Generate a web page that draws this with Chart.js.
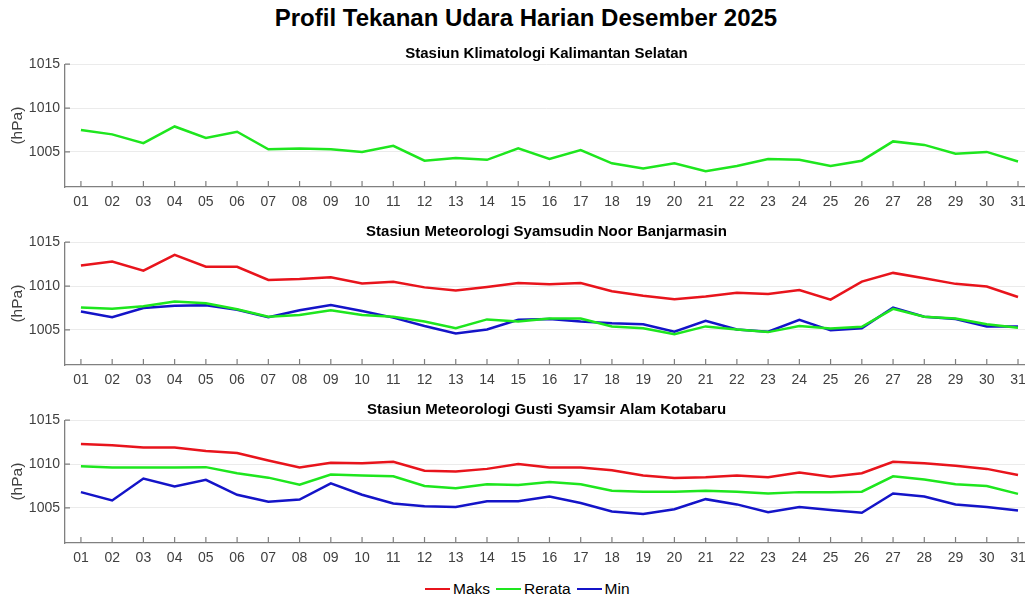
<!DOCTYPE html>
<html>
<head>
<meta charset="utf-8">
<script src="https://cdn.jsdelivr.net/npm/chart.js@4.4.1/dist/chart.umd.min.js"></script>
<style>
    body { margin: 0; background: #fff; width: 1025px; height: 599px; overflow: hidden; position: relative; font-family: "Liberation Sans", Arial, sans-serif; }
    canvas { position: absolute; left: 0; }
    #judul { position: absolute; left: 0; width: 1052px; top: 4px; text-align: center; font-weight: bold; font-size: 24px; line-height: 28px; color: #000; }
    #legenda { position: absolute; top: 578px; left: 425px; display: flex; align-items: center; font-size: 15.5px; line-height: 22px; color: #000; }
    #legenda .garis { display: inline-block; width: 25px; height: 2.5px; margin-right: 3px; }
    #legenda .teks { margin-right: 6px; }
</style>
</head>
<body>
<div id="judul">Profil Tekanan Udara Harian Desember 2025</div>
<canvas id="panel1" width="1035" height="175" style="top:42px"></canvas>
<canvas id="panel2" width="1035" height="175" style="top:220px"></canvas>
<canvas id="panel3" width="1035" height="175" style="top:398px"></canvas>
<div id="legenda">
    <span class="garis" style="background:#e8141c"></span><span class="teks">Maks</span>
    <span class="garis" style="background:#1ee61e"></span><span class="teks">Rerata</span>
    <span class="garis" style="background:#1414c8"></span><span class="teks">Min</span>
</div>
<script>
// label tanggal
const hari = ['01','02','03','04','05','06','07','08','09','10','11','12','13','14','15','16',
              '17','18','19','20','21','22','23','24','25','26','27','28','29','30','31'];

// Stasiun Klimatologi Kalimantan Selatan
const klimRerata = [1007.5, 1007.0, 1006.0, 1007.9, 1006.6, 1007.3, 1005.3, 1005.4, 1005.3, 1005.0, 1005.7,
                    1004.0, 1004.3, 1004.1, 1005.4, 1004.2, 1005.2, 1003.7, 1003.1, 1003.7, 1002.8, 1003.4,
                    1004.2, 1004.1, 1003.4, 1004.0, 1006.2, 1005.8, 1004.8, 1005.0, 1003.9];

// Stasiun Meteorologi Syamsudin Noor Banjarmasin
const bjmMaks = [1012.35, 1012.8, 1011.75, 1013.55, 1012.2, 1012.2, 1010.7, 1010.8, 1011.0, 1010.3, 1010.5,
                 1009.85, 1009.5, 1009.9, 1010.35, 1010.2, 1010.35, 1009.4, 1008.9, 1008.5, 1008.8, 1009.25,
                 1009.1, 1009.55, 1008.45, 1010.5, 1011.5, 1010.9, 1010.25, 1009.95, 1008.75];
const bjmRerata = [1007.55, 1007.4, 1007.7, 1008.25, 1008.05, 1007.35, 1006.5, 1006.7, 1007.25, 1006.7, 1006.5,
                   1005.95, 1005.2, 1006.2, 1005.95, 1006.3, 1006.3, 1005.4, 1005.2, 1004.5, 1005.4, 1005.05,
                   1004.75, 1005.45, 1005.15, 1005.35, 1007.4, 1006.5, 1006.3, 1005.65, 1005.25];
const bjmMin = [1007.1, 1006.45, 1007.5, 1007.75, 1007.8, 1007.3, 1006.45, 1007.25, 1007.85, 1007.15, 1006.4,
                1005.45, 1004.6, 1005.05, 1006.15, 1006.25, 1005.95, 1005.75, 1005.65, 1004.8, 1006.05, 1005.05,
                1004.8, 1006.15, 1004.95, 1005.2, 1007.55, 1006.5, 1006.25, 1005.4, 1005.4];

// Stasiun Meteorologi Gusti Syamsir Alam Kotabaru
const ktbMaks = [1012.3, 1012.15, 1011.9, 1011.9, 1011.5, 1011.25, 1010.4, 1009.6, 1010.15, 1010.1, 1010.25,
                 1009.25, 1009.15, 1009.45, 1010.0, 1009.6, 1009.6, 1009.3, 1008.7, 1008.4, 1008.5, 1008.7,
                 1008.5, 1009.05, 1008.55, 1008.95, 1010.25, 1010.1, 1009.8, 1009.45, 1008.75];
const ktbRerata = [1009.75, 1009.6, 1009.6, 1009.6, 1009.65, 1008.95, 1008.45, 1007.65, 1008.8, 1008.7, 1008.6,
                   1007.5, 1007.25, 1007.7, 1007.6, 1007.95, 1007.7, 1006.95, 1006.85, 1006.85, 1006.95, 1006.85,
                   1006.65, 1006.8, 1006.8, 1006.85, 1008.6, 1008.25, 1007.7, 1007.5, 1006.6];
const ktbMin = [1006.8, 1005.85, 1008.35, 1007.45, 1008.2, 1006.5, 1005.7, 1005.95, 1007.8, 1006.5, 1005.5,
                1005.2, 1005.1, 1005.75, 1005.75, 1006.3, 1005.55, 1004.6, 1004.3, 1004.85, 1006.0, 1005.4,
                1004.5, 1005.1, 1004.75, 1004.45, 1006.65, 1006.3, 1005.4, 1005.1, 1004.7];

const warnaMaks = '#e8141c';
const warnaRerata = '#1ee61e';
const warnaMin = '#1414c8';

Chart.defaults.font.family = '"Liberation Sans", Arial, sans-serif';

// garis tick kecil di dalam sumbu
const tickDalam = {
    id: 'tickDalam',
    beforeDatasetsDraw(chart) {
        const { ctx, chartArea, scales } = chart;
        ctx.save();
        ctx.strokeStyle = '#7f7f7f';
        ctx.lineWidth = 1.2;
        ctx.beginPath();
        scales.x.ticks.forEach(t => {
            const px = scales.x.getPixelForValue(t.value);
            ctx.moveTo(px, chartArea.bottom);
            ctx.lineTo(px, chartArea.bottom - 6);
        });
        scales.y.ticks.forEach(t => {
            const py = scales.y.getPixelForValue(t.value);
            ctx.moveTo(chartArea.left, py);
            ctx.lineTo(chartArea.left + 5, py);
        });
        ctx.stroke();
        ctx.restore();
    }
};

function seri(nilai, warna) {
    return {
        data: nilai.map((v, i) => ({ x: Number(hari[i]), y: v })),
        borderColor: warna,
        backgroundColor: warna,
        borderWidth: 2.5,
        pointRadius: 0,
        tension: 0,
        fill: false
    };
}

// buat satu panel grafik
function buatPanel(id, judul, datasets) {
    const ctx = document.getElementById(id).getContext('2d');
    new Chart(ctx, {
        type: 'line',
        data: { datasets: datasets },
        plugins: [tickDalam],
        options: {
            responsive: false,
            animation: false,
            layout: { padding: { left: 0, right: 7, top: 0, bottom: 0 } },
            scales: {
                x: {
                    type: 'linear',
                    min: 0.49,
                    max: 31.32,
                    afterFit: s => { s.height = 30; },
                    grid: { display: false, drawTicks: false },
                    border: { color: '#808080', width: 1.3 },
                    ticks: {
                        stepSize: 1,
                        includeBounds: false,
                        autoSkip: false,
                        maxRotation: 0,
                        padding: 7,
                        color: '#404040',
                        font: { size: 14 },
                        callback: v => hari[v - 1]
                    }
                },
                y: {
                    min: 1001,
                    max: 1015,
                    afterFit: s => { s.width = 65; },
                    grid: { color: '#ebebeb', lineWidth: 1, drawTicks: false },
                    border: { color: '#808080', width: 1.3 },
                    ticks: {
                        stepSize: 5,
                        includeBounds: false,
                        padding: 5,
                        color: '#404040',
                        font: { size: 14 },
                        callback: v => String(v)
                    },
                    title: {
                        display: true,
                        text: '(hPa)',
                        color: '#404040',
                        font: { size: 15.5 },
                        padding: { top: 8, bottom: 0 }
                    }
                }
            },
            plugins: {
                legend: { display: false },
                tooltip: { enabled: false },
                title: {
                    display: true,
                    text: judul,
                    fullSize: false,
                    color: '#000',
                    font: { size: 15, weight: 'bold' },
                    padding: { top: 2.5, bottom: 1.7 }
                }
            }
        }
    });
}

buatPanel('panel1', 'Stasiun Klimatologi Kalimantan Selatan', [
    seri(klimRerata, warnaRerata)
]);
buatPanel('panel2', 'Stasiun Meteorologi Syamsudin Noor Banjarmasin', [
    seri(bjmMaks, warnaMaks),
    seri(bjmRerata, warnaRerata),
    seri(bjmMin, warnaMin)
]);
buatPanel('panel3', 'Stasiun Meteorologi Gusti Syamsir Alam Kotabaru', [
    seri(ktbMaks, warnaMaks),
    seri(ktbRerata, warnaRerata),
    seri(ktbMin, warnaMin)
]);
</script>
</body>
</html>
